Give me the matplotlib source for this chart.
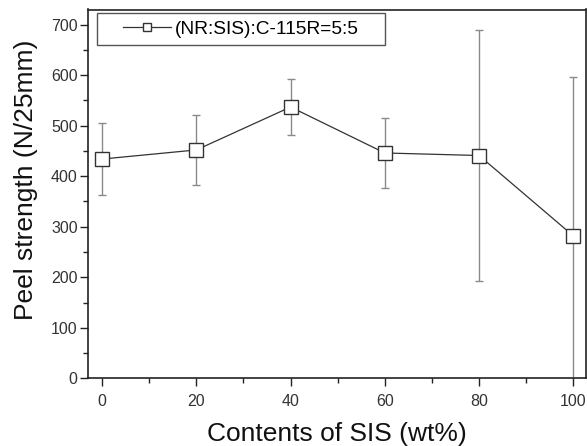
import matplotlib
matplotlib.use("Agg")
import matplotlib.pyplot as plt
from matplotlib.patches import Rectangle
from matplotlib.ticker import MultipleLocator

plt.rcParams["font.family"] = ["Liberation Sans", "DejaVu Sans"]

# data
sis_content = [0, 20, 40, 60, 80, 100]
peel_strength = [434, 452, 537, 446, 441, 282]
peel_err = [71, 70, 56, 69, 248, 315]
series_label = "(NR:SIS):C-115R=5:5"

fg = "#222222"
W, H = 587, 446

fig = plt.figure(figsize=(W / 100, H / 100), dpi=100)
ax = fig.add_axes([88 / W, 1 - 378.3 / H, (586 - 88) / W, (378.3 - 9.5) / H])

ax.errorbar(
    sis_content,
    peel_strength,
    yerr=peel_err,
    fmt="none",
    ecolor="#8a8a8a",
    elinewidth=1.0,
    capsize=3,
    capthick=1.0,
    zorder=2,
)
ax.plot(
    sis_content,
    peel_strength,
    color="#333333",
    linewidth=0.9,
    marker="s",
    markersize=10,
    markerfacecolor="white",
    markeredgecolor="#333333",
    markeredgewidth=1.0,
    label=series_label,
    zorder=3,
)

ax.set_xlim(-3, 102.7)
ax.set_ylim(0, 730)
ax.xaxis.set_major_locator(MultipleLocator(20))
ax.xaxis.set_minor_locator(MultipleLocator(10))
ax.yaxis.set_major_locator(MultipleLocator(100))
ax.yaxis.set_minor_locator(MultipleLocator(50))
ax.tick_params(which="major", direction="out", length=6, width=1.0, colors=fg, labelsize=11.5, labelcolor="#333333")
ax.tick_params(which="minor", direction="out", length=3.5, width=1.0, colors=fg)
ax.tick_params(axis="y", which="major", pad=1.5)
ax.tick_params(axis="x", which="major", pad=5)
for spine in ax.spines.values():
    spine.set_color(fg)
    spine.set_linewidth(1.2)

ax.set_xlabel("Contents of SIS (wt%)", fontsize=19, color="#111111", labelpad=10)
ax.set_ylabel("Peel strength (N/25mm)", fontsize=19, color="#111111")
ax.yaxis.set_label_coords(-0.10, 0.538)

# legend box drawn separately so it can have the wide side padding of the original
box = Rectangle(
    (97 / W, 1 - 45 / H), (385 - 97) / W, (45 - 13) / H,
    transform=fig.transFigure, facecolor="white", edgecolor="#555555", linewidth=1.0, zorder=4,
)
ax.add_patch(box)
leg = ax.legend(
    loc="center left",
    bbox_to_anchor=(123 / W, 1 - 29 / H),
    bbox_transform=fig.transFigure,
    fontsize=13.8,
    frameon=False,
    borderpad=0,
    borderaxespad=0,
    handlelength=2.5,
    handletextpad=0.2,
    markerscale=0.55,
)
leg.set_zorder(5)

fig.savefig("out.png", dpi=100)
